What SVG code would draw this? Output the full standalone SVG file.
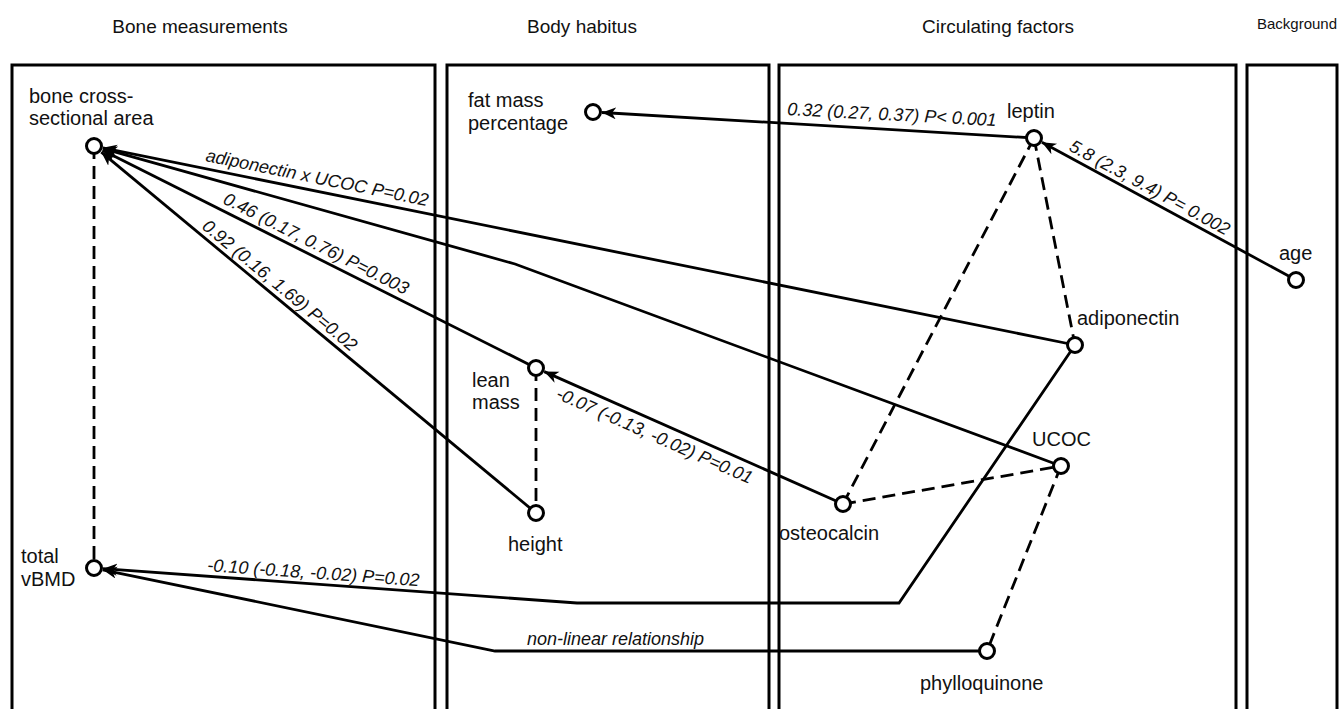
<svg xmlns="http://www.w3.org/2000/svg" width="1343" height="709" viewBox="0 0 1343 709">
<style>
.panel{fill:none;stroke:#000;stroke-width:3}
.hdr{font-family:"Liberation Sans",Arial,sans-serif;font-size:19px;fill:#111}
.lbl{font-family:"Liberation Sans",Arial,sans-serif;font-size:20px;fill:#111}
.elbl{font-family:"Liberation Sans",Arial,sans-serif;font-size:18px;font-style:italic;fill:#111}
.node{fill:#fff;stroke:#000;stroke-width:3}
.edge{fill:none;stroke:#000;stroke-width:2.8}
.dash{fill:none;stroke:#000;stroke-width:2.8;stroke-dasharray:13 7}
</style>
<defs>
<marker id="arr" markerUnits="userSpaceOnUse" markerWidth="16" markerHeight="14" refX="14" refY="6" orient="auto">
<path d="M0,0 L14,6 L0,12 L4,6 z" fill="#000"/>
</marker>
</defs>
<rect width="1343" height="709" fill="#fff"/>
<g id="panels">
<rect class="panel" x="12" y="65" width="423" height="680"/>
<rect class="panel" x="447" y="65" width="322" height="680"/>
<rect class="panel" x="779" y="65" width="457" height="680"/>
<rect class="panel" x="1247" y="65" width="90" height="680"/>
<text class="hdr" x="200" y="33" text-anchor="middle">Bone measurements</text>
<text class="hdr" x="582" y="33" text-anchor="middle">Body habitus</text>
<text class="hdr" x="998" y="33" text-anchor="middle">Circulating factors</text>
<text class="hdr" x="1257" y="29" style="font-size:15px">Background</text>
</g>
<g id="connectors">
<line class="dash" x1="94" y1="146" x2="94" y2="568"/>
<line class="dash" x1="536" y1="368" x2="536" y2="513"/>
<line class="dash" x1="1034" y1="138" x2="843" y2="504"/>
<line class="dash" x1="1034" y1="138" x2="1075" y2="345"/>
<line class="dash" x1="843" y1="504" x2="1061" y2="466"/>
<line class="dash" x1="1061" y1="466" x2="987" y2="651"/>
<path class="edge" d="M1034,138 L602,112.5" marker-end="url(#arr)"/>
<path class="edge" d="M1296,280 L1041.9,142.3" marker-end="url(#arr)"/>
<path class="edge" d="M1075,345 L102.8,147.8" marker-end="url(#arr)"/>
<path class="edge" d="M1061,466 L515,264 L103.1,148.6" marker-end="url(#arr)"/>
<path class="edge" d="M536,368 L102.5,150.3" marker-end="url(#arr)"/>
<path class="edge" d="M536,513 L101.3,152.1" marker-end="url(#arr)"/>
<path class="edge" d="M843,504 L544.2,371.6" marker-end="url(#arr)"/>
<path class="edge" d="M1075,345 L899,603 L577,603 L103,568.7" marker-end="url(#arr)"/>
<path class="edge" d="M987,651 L495,651 L102.8,569.8" marker-end="url(#arr)"/>
<text class="elbl" transform="translate(787,115) rotate(3)">0.32 (0.27, 0.37) P&lt; 0.001</text>
<text class="elbl" transform="translate(1068,150) rotate(28.5)">5.8 (2.3, 9.4) P= 0.002</text>
<text class="elbl" transform="translate(205,161) rotate(11.5)">adiponectin x UCOC P=0.02</text>
<text class="elbl" transform="translate(222,203) rotate(26.7)">0.46 (0.17, 0.76) P=0.003</text>
<text class="elbl" transform="translate(201,228) rotate(39.6)">0.92 (0.16, 1.69) P=0.02</text>
<text class="elbl" transform="translate(555,398) rotate(23.9)">-0.07 (-0.13, -0.02) P=0.01</text>
<text class="elbl" transform="translate(207,571) rotate(4.1)">-0.10 (-0.18, -0.02) P=0.02</text>
<text class="elbl" x="527" y="645">non-linear relationship</text>
</g>
<g id="node-bone-csa"><circle class="node" cx="94" cy="146" r="7.5"/><text class="lbl" x="29" y="103">bone cross-</text><text class="lbl" x="29" y="125">sectional area</text></g>
<g id="node-total-vbmd"><circle class="node" cx="94" cy="568" r="7.5"/><text class="lbl" x="21" y="563">total</text><text class="lbl" x="21" y="586">vBMD</text></g>
<g id="node-fat-mass"><circle class="node" cx="593" cy="112" r="7.5"/><text class="lbl" x="468" y="107">fat mass</text><text class="lbl" x="468" y="130">percentage</text></g>
<g id="node-lean-mass"><circle class="node" cx="536" cy="368" r="7.5"/><text class="lbl" x="472" y="387">lean</text><text class="lbl" x="472" y="409">mass</text></g>
<g id="node-height"><circle class="node" cx="536" cy="513" r="7.5"/><text class="lbl" x="508" y="551">height</text></g>
<g id="node-leptin"><circle class="node" cx="1034" cy="138" r="7.5"/><text class="lbl" x="1007" y="118">leptin</text></g>
<g id="node-age"><circle class="node" cx="1296" cy="280" r="7.5"/><text class="lbl" x="1279" y="260">age</text></g>
<g id="node-adiponectin"><circle class="node" cx="1075" cy="345" r="7.5"/><text class="lbl" x="1077" y="325">adiponectin</text></g>
<g id="node-ucoc"><circle class="node" cx="1061" cy="466" r="7.5"/><text class="lbl" x="1032" y="446">UCOC</text></g>
<g id="node-osteocalcin"><circle class="node" cx="843" cy="504" r="7.5"/><text class="lbl" x="779" y="540">osteocalcin</text></g>
<g id="node-phylloquinone"><circle class="node" cx="987" cy="651" r="7.5"/><text class="lbl" x="920" y="690">phylloquinone</text></g>
</svg>
